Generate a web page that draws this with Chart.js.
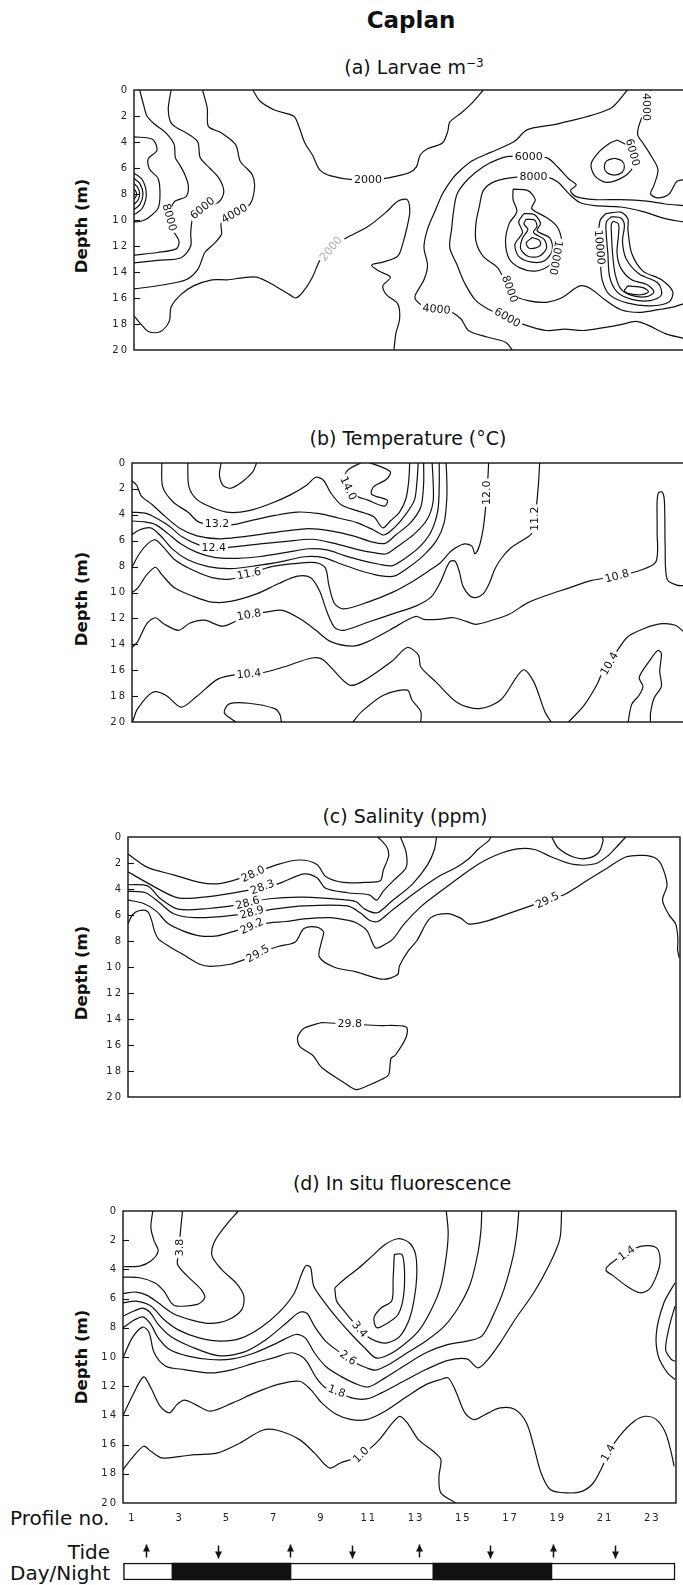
<!DOCTYPE html>
<html>
<head>
<meta charset="utf-8">
<script src="https://cdn.jsdelivr.net/npm/chart.js@4.4.1/dist/chart.umd.min.js"></script>
<style>
  html, body { margin: 0; padding: 0; background: #fff; width: 683px; height: 1585px; overflow: hidden; }
  #page { position: relative; width: 683px; height: 1585px; font-family: "DejaVu Sans", sans-serif; color: #111; }
  #page canvas { position: absolute; }
  .t { position: absolute; white-space: nowrap; line-height: 1; transform: translate(-50%, -50%); }
  .title { font-size: 19px; }
  .depth { font-size: 16.5px; font-weight: bold; transform: translate(-50%, -50%) rotate(-90deg); }
  .side { position: absolute; white-space: nowrap; line-height: 1; font-size: 20px; transform: translateY(-50%); }
  sup { font-size: 12px; }
</style>
</head>
<body>
<div id="page">
  <div class="t" style="left:411px; top:20px; font-size:23px; font-weight:bold;">Caplan</div>
  <div class="t title" style="left:414px; top:67px;">(a) Larvae m<sup>−3</sup></div>
  <div class="t title" style="left:408px; top:438px;">(b) Temperature (°C)</div>
  <div class="t title" style="left:405px; top:816px;">(c) Salinity (ppm)</div>
  <div class="t title" style="left:402px; top:1183px;">(d) In situ fluorescence</div>

  <div class="t depth" style="left:82px; top:226px;">Depth (m)</div>
  <div class="t depth" style="left:82px; top:599px;">Depth (m)</div>
  <div class="t depth" style="left:82px; top:973px;">Depth (m)</div>
  <div class="t depth" style="left:82px; top:1357px;">Depth (m)</div>

  <div class="side" style="left:10px; top:1518px;">Profile no.</div>
  <div class="side" style="right:573px; top:1552px;">Tide</div>
  <div class="side" style="right:573px; top:1573px;">Day/Night</div>

  <canvas id="larvae"></canvas>
  <canvas id="temp"></canvas>
  <canvas id="sal"></canvas>
  <canvas id="fluor"></canvas>
  <canvas id="strip"></canvas>
</div>

<script>
// Axis ticks
const depthTicks = [0, 2, 4, 6, 8, 10, 12, 14, 16, 18, 20];
const profileTicks = [1, 3, 5, 7, 9, 11, 13, 15, 17, 19, 21, 23];

// Tide turns and night periods (profile no.)
const tideProfiles = [1.57, 4.62, 7.66, 10.29, 13.12, 16.12, 18.79, 21.41];
const tideDirections = ['up', 'down', 'up', 'down', 'up', 'down', 'up', 'down'];
const nightSpans = [[2.67, 7.71], [13.71, 18.75]];

// (a) Larvae m-3 contour lines, points are [profile, depth]
const larvaeLines = [
  [[0.84,0],[1.0,1.1],[1.15,2.0],[1.45,2.6],[1.95,3.3],[2.3,4.2],[2.35,5.2],[2.55,5.8],[2.75,6.5],[2.9,7.4],[2.8,8.2],[2.3,8.6],[2.1,9.8],[2.25,10.8],[2.5,11.6],[2.4,12.2],[1.6,12.5],[0.6,12.7]],
  [[2.17,0],[2.05,1.5],[2.2,2.6],[2.9,3.4],[3.3,4.0],[3.4,5.2],[3.8,6.0],[4.2,6.8],[4.4,7.8],[4.2,8.6],[3.5,9.1],[3.1,9.8],[3.0,11.0],[3.0,12.0],[2.6,12.9],[1.6,13.1],[0.6,13.3]],
  [[3.5,0],[3.7,1.4],[3.75,2.8],[4.3,3.3],[4.9,4.2],[5.1,5.5],[5.6,6.5],[5.7,7.5],[5.5,8.8],[4.85,9.5],[4.3,10.2],[4.3,11.1],[4.0,11.8],[3.6,12.5],[3.3,13.8],[2.8,14.6],[1.8,15.0],[0.6,15.3]],
  [[0.6,3.6],[1.39,3.8],[1.57,4.65],[1.2,5.3],[1.26,6.1],[1.62,6.8],[1.7,8.0],[1.62,9.1],[1.23,9.8],[0.9,10.1],[0.6,10.15]],
  [[0.6,6.4],[0.95,6.9],[1.12,8.0],[0.95,9.1],[0.6,9.6]],
  [[0.6,6.8],[0.85,7.2],[0.98,8.0],[0.85,8.8],[0.6,9.2]],
  [[0.6,7.2],[0.76,7.5],[0.84,8.0],[0.76,8.5],[0.6,8.8]],
  [[0.6,7.6],[0.68,7.8],[0.71,8.0],[0.68,8.2],[0.6,8.4]],
  [[5.63,0],[5.94,0.87],[6.57,1.56],[7.36,2.02],[7.6,2.93],[7.83,4.08],[8.15,5.0],[8.46,6.14],[8.93,6.6],[10.03,6.94],[11.0,6.85],[11.76,6.6],[12.24,6.37],[12.55,5.91],[12.71,5.0],[13.0,4.54],[13.65,4.08],[13.88,3.16],[13.96,2.47],[14.43,1.79],[14.91,0.99],[15.38,0]],
  [[0.6,17.37],[0.91,18.05],[1.23,18.6],[1.7,18.6],[2.09,17.8],[2.17,16.7],[2.57,15.76],[3.12,15.07],[3.9,14.6],[4.53,14.6],[5.2,14.45],[5.79,14.4],[6.57,15.07],[7.2,15.76],[7.44,16.0],[7.75,15.53],[8.15,14.4],[8.46,13.13],[8.93,12.2],[9.56,11.4],[10.5,10.5],[11.3,9.35],[11.76,8.55],[12.16,8.43],[12.27,9.35],[12.16,10.5],[12.0,11.64],[11.76,12.78],[11.13,13.24],[10.66,13.47],[10.97,13.93],[11.45,14.4],[11.13,15.07],[11.29,15.76],[11.76,16.45],[11.84,17.6],[11.68,18.74],[11.6,20]],
  [[21.48,0],[20.74,1.44],[18.54,2.6],[17.25,3.05],[16.69,3.96],[15.69,4.8],[14.91,5.45],[14.28,6.4],[13.96,7.1],[13.65,8.0],[13.34,9.3],[13.02,10.7],[12.87,12.1],[13.02,13.5],[12.87,14.6],[12.5,15.8],[12.55,16.2],[13.02,16.8],[13.81,16.9],[14.43,17.6],[14.75,18.5],[15.54,19.0],[16.32,19.4],[16.61,20]],
  [[23.84,19.1],[23.08,18.74],[22.3,18.05],[21.83,17.8],[21.2,18.05],[20.41,18.3],[19.62,18.5],[18.83,18.4],[18.05,18.5],[17.11,18.05],[15.85,17.1],[15.07,16.2],[14.59,14.85],[14.28,13.5],[13.96,12.1],[14.04,10.7],[14.12,9.35],[14.28,7.97],[14.75,6.83],[15.38,5.9],[16.0,5.34],[16.48,5.1],[18.05,5.2],[18.52,5.9],[18.99,6.83],[19.31,7.3],[19.07,7.74],[19.31,8.2],[20.1,8.43],[21.2,8.43],[22.3,8.55],[23.08,8.77],[23.84,8.9]],
  [[23.84,10.15],[23.08,9.9],[22.14,9.35],[21.2,9.0],[20.1,8.9],[19.47,8.66],[19.0,7.97],[18.52,7.05],[18.05,6.7],[16.8,6.7],[15.85,7.05],[15.38,7.74],[15.22,8.9],[15.07,10.26],[15.07,11.64],[15.38,12.8],[16.0,13.7],[16.32,14.85],[16.64,15.76],[17.27,16.2],[18.05,16.33],[18.68,16.0],[19.47,15.07],[19.94,15.3],[20.57,16.2],[21.2,16.9],[21.98,17.1],[22.77,16.9],[23.4,16.7],[23.84,16.45]],
  [[22.46,0],[22.3,1.56],[22.06,2.25],[21.91,3.4],[22.14,4.1],[22.46,5.0],[22.77,6.1],[22.61,7.3],[22.46,8.0],[22.77,8.3],[23.24,8.0],[23.56,7.05],[23.84,6.9]],
  [[21.04,3.85],[21.5,4.3],[21.8,5.2],[21.66,6.1],[21.2,6.8],[20.57,7.1],[20.1,6.6],[19.94,5.7],[20.26,4.8],[20.73,4.1],[21.04,3.85]],
  [[20.93,5.25],[21.25,5.45],[21.35,5.9],[21.25,6.35],[20.93,6.55],[20.6,6.35],[20.5,5.9],[20.6,5.45],[20.93,5.25]],
  [[16.64,7.63],[17.27,7.74],[17.58,8.43],[17.43,9.12],[18.05,9.8],[18.5,10.5],[18.7,11.64],[18.6,12.56],[18.2,13.47],[17.58,13.93],[16.96,13.7],[16.48,13.0],[16.32,11.64],[16.48,10.26],[16.8,9.35],[16.64,8.43],[16.64,7.63]],
  [[17.1,9.5],[17.55,9.6],[17.8,10.26],[17.66,10.84],[18.2,11.4],[18.3,12.33],[17.97,13.13],[17.43,13.24],[16.88,12.8],[16.72,11.87],[17.04,10.95],[16.88,10.15],[17.1,9.5]],
  [[17.19,9.95],[17.55,10.0],[17.65,10.5],[17.5,10.95],[17.97,11.52],[18.05,12.2],[17.74,12.79],[17.27,12.79],[16.96,12.2],[17.04,11.4],[17.27,10.72],[17.1,10.3],[17.19,9.95]],
  [[17.45,11.35],[17.75,11.55],[17.8,11.9],[17.6,12.15],[17.3,12.15],[17.2,11.75],[17.45,11.35]],
  [[20.57,9.5],[21.2,9.4],[21.5,9.9],[21.5,10.72],[21.66,12.56],[22.14,13.93],[22.92,14.6],[23.4,15.53],[23.24,16.3],[22.46,16.6],[21.5,16.4],[20.73,15.76],[20.41,14.6],[20.33,13.0],[20.26,11.18],[20.33,10.0],[20.57,9.5]],
  [[20.8,9.75],[21.2,9.85],[21.35,10.4],[21.27,11.64],[21.43,13.0],[21.98,14.16],[22.77,14.85],[22.92,15.76],[22.46,16.2],[21.66,16.1],[21.04,15.53],[20.73,14.4],[20.65,12.56],[20.57,10.72],[20.6,10.1],[20.8,9.75]],
  [[20.88,10.1],[21.1,10.3],[21.1,11.18],[21.04,12.56],[21.2,13.7],[21.66,14.6],[22.3,14.96],[22.6,15.53],[22.3,15.9],[21.66,15.8],[21.2,15.3],[20.96,14.16],[20.85,12.56],[20.8,10.95],[20.8,10.3],[20.88,10.1]],
  [[21.5,15.07],[22.14,15.2],[22.37,15.53],[22.06,15.75],[21.5,15.65],[21.35,15.42],[21.5,15.07]]
];
const larvaeLabels = [
  ['8000', 2.1, 9.8, 75], ['6000', 3.5, 9.1, -40], ['4000', 4.85, 9.5, -30],
  ['2000', 10.5, 6.9, 0], ['2000', 8.93, 12.2, -50, true],
  ['4000', 13.4, 16.86, 5], ['6000', 16.4, 17.5, 30], ['6000', 17.3, 5.15, 0],
  ['8000', 17.5, 6.7, 0], ['10000', 18.45, 12.9, 100], ['8000', 16.5, 15.3, 70],
  ['10000', 20.3, 12.1, 85], ['4000', 22.3, 1.3, 90], ['6000', 21.7, 4.8, 75]
];

// (b) Temperature contour lines
const tempLines = [
  [[4.37,0],[4.3,0.92],[4.45,1.72],[4.77,1.95],[5.24,1.49],[5.71,0.69],[5.87,0]],
  [[10.27,0],[9.72,0.57],[9.56,1.38],[9.95,2.41],[10.58,2.87],[11.29,3.33],[11.4,2.87],[10.74,2.41],[10.82,1.84],[11.37,1.26],[11.53,0.69],[10.98,0.18],[10.66,0]],
  [[2.96,0],[3.01,1.84],[3.38,2.87],[4.06,3.49],[4.73,3.82],[5.55,3.68],[6.42,3.17],[7.28,2.48],[7.99,1.72],[8.38,1.1],[8.7,1.33],[9.01,2.3],[9.45,3.22],[10.11,3.68],[10.82,4.14],[11.21,5.01],[11.53,4.48],[11.92,3.79],[12.19,2.76],[12.31,1.38],[12.35,0]],
  [[1.86,0],[1.9,1.84],[2.33,2.99],[2.96,3.79],[3.48,4.6],[4.77,4.78],[5.71,4.41],[6.65,4.05],[7.6,3.79],[8.54,3.91],[9.33,4.25],[10.11,4.6],[10.82,5.17],[11.26,5.56],[11.69,5.01],[12.16,4.02],[12.55,2.87],[12.66,1.38],[12.71,0]],
  [[0.6,1.38],[0.8,1.72],[0.99,2.53],[1.46,3.22],[2.01,4.14],[2.64,5.06],[3.35,5.63],[4.3,5.86],[5.24,5.7],[6.18,5.47],[7.13,5.24],[8.07,5.06],[9.01,5.24],[9.96,5.63],[10.74,6.09],[11.31,6.21],[11.76,5.56],[12.39,4.6],[12.82,3.4],[12.94,1.61],[12.94,0]],
  [[0.6,3.79],[1.23,3.91],[1.62,4.25],[2.17,4.87],[2.72,5.7],[3.43,6.32],[4.14,6.55],[5.08,6.44],[6.02,6.25],[7.13,6.05],[8.23,5.89],[9.17,6.21],[10.11,6.67],[10.9,6.94],[11.37,7.01],[11.84,6.44],[12.55,5.47],[13.1,4.32],[13.34,2.99],[13.34,1.38],[13.3,0]],
  [[0.6,4.48],[1.15,4.55],[1.62,4.78],[2.09,5.4],[2.64,6.21],[3.35,6.9],[4.14,7.31],[5.08,7.36],[6.02,7.22],[7.13,6.9],[8.07,6.62],[8.85,6.71],[9.56,7.13],[10.35,7.54],[11.06,7.82],[11.61,7.93],[12.16,7.36],[12.79,6.44],[13.26,5.29],[13.54,3.68],[13.6,1.84],[13.6,0]],
  [[0.6,5.52],[0.91,5.17],[1.39,5.01],[1.78,5.56],[2.33,6.67],[2.96,7.47],[3.82,8.0],[4.77,8.16],[5.87,7.93],[6.97,7.59],[7.91,7.24],[8.7,7.31],[9.48,7.82],[10.27,8.32],[11.06,8.69],[11.69,8.74],[12.31,8.05],[12.94,7.13],[13.49,5.98],[13.81,4.6],[13.92,2.76],[13.92,1.15],[13.89,0]],
  [[0.6,8.05],[0.91,7.01],[1.28,6.21],[1.59,5.93],[1.9,6.44],[2.41,7.47],[3.12,8.23],[3.98,8.85],[4.77,8.97],[5.55,8.55],[6.5,8.0],[7.44,7.77],[8.38,7.7],[8.78,8.1],[8.93,9.43],[9.17,10.85],[9.56,11.26],[10.58,10.74],[11.69,9.93],[12.47,9.15],[13.1,8.39],[13.65,7.7],[14.12,6.78],[14.67,6.25],[14.99,6.44],[15.11,7.01],[15.3,6.39],[15.46,5.06],[15.55,3.68],[15.62,2.3],[15.66,1.15],[15.69,0]],
  [[0.6,10.0],[0.84,9.66],[1.23,8.62],[1.59,8.05],[1.86,8.62],[2.41,9.66],[3.2,10.3],[3.98,10.74],[4.77,10.69],[5.87,10.11],[6.81,9.31],[7.6,8.74],[8.15,8.85],[8.54,9.89],[8.85,11.49],[9.17,12.69],[9.56,12.92],[10.58,12.3],[11.69,11.61],[12.63,11.03],[13.26,10.34],[13.65,9.2],[13.89,8.16],[14.07,7.59],[14.28,7.59],[14.45,8.39],[14.61,9.54],[14.88,10.23],[15.14,10.39],[15.46,10.11],[15.74,9.2],[15.96,8.16],[16.28,7.24],[16.64,6.55],[17.11,5.98],[17.5,5.47],[17.66,4.14],[17.79,1.84],[17.85,0]],
  [[0.6,14.25],[0.84,13.79],[1.23,12.41],[1.59,11.95],[1.94,12.41],[2.57,12.92],[3.04,12.37],[3.67,12.14],[4.45,12.6],[5.55,11.72],[6.34,11.49],[6.97,11.38],[7.75,12.07],[8.38,12.92],[9.01,13.79],[9.95,14.14],[10.58,13.79],[11.53,12.87],[12.31,12.07],[12.63,11.84],[12.94,12.07],[13.57,12.07],[14.2,11.95],[14.75,12.23],[15.14,12.46],[15.77,12.18],[16.56,11.68],[17.34,10.8],[18.13,10.23],[19.07,9.66],[20.02,9.08],[21.12,8.74],[22.06,8.32],[22.77,7.63],[22.82,5.29],[22.82,2.99],[22.88,2.3],[23.04,2.25],[23.13,2.99],[23.16,6.44],[23.24,8.97],[23.64,9.43],[23.92,9.47]],
  [[0.62,20],[0.84,18.97],[1.48,17.7],[2.03,17.93],[2.68,18.85],[3.32,18.05],[4.25,16.67],[5.08,16.32],[6.09,16.21],[7.02,15.75],[8.21,15.06],[8.67,15.17],[9.77,17.13],[10.32,16.9],[11.61,15.29],[12.25,14.25],[12.72,14.83],[12.82,15.75],[13.46,16.9],[14.37,18.51],[15.3,18.97],[16.21,18.28],[17.14,15.98],[17.6,16.9],[18.07,19.2],[18.34,20]],
  [[4.99,20],[4.51,19.31],[4.7,18.62],[5.54,18.55],[6.64,18.97],[6.86,19.43],[6.92,20]],
  [[9.95,20],[10.32,19.2],[11.24,17.93],[12.25,17.54],[12.44,18.28],[12.82,19.2],[12.82,20]],
  [[19.07,20],[19.72,18.74],[20.27,17.13],[20.55,15.98],[21.01,14.83],[21.56,13.45],[22.3,12.76],[23.04,12.41],[23.59,12.53],[23.92,12.99]],
  [[21.59,20],[21.75,18.62],[22.06,17.93],[22.22,17.24],[22.06,16.55],[22.54,15.17],[22.85,14.48],[23.0,14.71],[22.93,16.09],[23.0,17.24],[22.69,18.16],[22.54,19.31],[22.54,20]]
];
const tempLabels = [
  ['14.0', 9.75, 1.95, 65], ['13.2', 4.2, 4.7, 0], ['12.4', 4.06, 6.5, 0],
  ['11.6', 5.55, 8.55, -12], ['10.8', 5.55, 11.72, -10], ['10.4', 5.55, 16.28, -5],
  ['12.0', 15.62, 2.3, -90], ['11.2', 17.65, 4.3, -90], ['10.8', 21.12, 8.74, -15],
  ['10.4', 20.8, 15.5, -60]
];

// (c) Salinity contour lines
const salLines = [
  [[0.6,1.31],[1.43,2.34],[2.53,2.91],[3.64,3.49],[4.38,3.6],[5.21,3.26],[6.96,2.11],[7.88,1.77],[8.61,2.11],[8.98,3.03],[9.72,3.49],[10.64,3.49],[11.29,3.37],[11.42,2.57],[11.65,1.42],[11.56,0.73],[11.19,0]],
  [[0.6,2.68],[1.61,3.72],[2.72,4.68],[4.01,4.59],[5.48,4.17],[6.96,3.6],[8.06,2.84],[8.61,3.14],[8.98,3.94],[9.9,4.29],[10.83,4.45],[11.14,4.86],[11.42,4.17],[11.84,3.37],[12.39,2.34],[12.39,1.19],[12.15,0]],
  [[0.6,3.67],[1.43,3.76],[1.98,4.75],[2.72,5.55],[4.01,5.5],[5.3,5.2],[6.59,4.75],[8.06,4.63],[9.72,4.82],[10.27,4.98],[10.64,5.55],[11.16,5.83],[11.75,4.98],[12.67,3.6],[13.31,2.11],[13.59,0.96],[13.68,0]],
  [[0.6,4.17],[1.34,4.29],[1.89,4.98],[2.53,5.9],[3.45,6.2],[4.93,6.05],[6.59,5.6],[8.06,5.3],[9.9,5.3],[10.46,5.85],[10.83,6.4],[11.19,6.5],[11.75,5.7],[12.85,4.17],[13.77,3.03],[14.51,2.34],[15.06,1.65],[15.43,0.96],[15.89,0.28],[15.98,0]],
  [[0.6,4.86],[1.24,5.1],[1.8,5.7],[2.26,6.6],[2.9,7.2],[3.64,7.6],[4.38,7.6],[5.0,7.3],[5.85,6.85],[6.6,6.6],[7.3,6.5],[8.06,6.3],[9.17,6.2],[9.9,6.4],[10.27,6.6],[10.73,7.2],[11.1,8.53],[11.56,8.19],[11.84,7.84],[12.3,6.7],[13.04,5.32],[13.77,4.29],[14.7,3.03],[15.43,2.11],[16.17,1.42],[17.09,0.92],[17.83,0.96],[18.56,1.54],[19.48,2.11],[20.41,2.06],[20.96,1.42],[21.33,0.73],[21.7,0]],
  [[0.6,6.7],[0.78,6.0],[1.06,5.67],[1.43,5.73],[1.61,6.47],[1.71,7.16],[1.89,7.84],[2.35,8.42],[2.9,9.0],[3.64,9.79],[4.1,9.95],[4.93,9.79],[5.67,9.33],[6.22,8.88],[6.96,8.42],[7.69,8.07],[8.06,7.04],[8.61,6.93],[8.89,7.3],[8.8,8.07],[8.71,9.22],[9.35,10.02],[10.27,10.37],[11.38,10.94],[12.02,10.6],[12.11,9.91],[12.48,8.76],[12.85,7.96],[13.41,6.24],[14.14,5.89],[14.7,6.24],[15.06,6.7],[15.8,6.47],[16.72,5.89],[17.64,5.32],[18.38,4.86],[19.12,4.4],[20.04,3.37],[20.96,2.34],[21.7,1.54],[22.44,1.42],[22.99,1.65],[23.26,2.34],[23.45,3.72],[23.26,4.86],[23.54,6.01],[23.82,6.7],[23.91,7.84],[23.9,8.7],[23.97,9.3]],
  [[18.56,0],[18.84,0.85],[19.48,1.54],[20.04,1.65],[20.55,1.19],[20.74,0.28],[20.7,0]],
  [[8.8,14.27],[9.9,14.38],[11.19,14.5],[12.39,14.61],[12.39,15.41],[11.93,16.79],[11.75,17.02],[11.65,18.28],[11.38,18.62],[10.83,19.08],[10.27,19.43],[9.72,18.85],[8.8,17.71],[8.43,16.79],[7.88,16.1],[7.79,15.41],[8.06,14.72],[8.8,14.27]]
];
const salLabels = [
  ['28.0', 5.9, 2.84, -25], ['28.3', 6.3, 3.85, -20], ['28.6', 5.67, 5.07, -15],
  ['28.9', 5.85, 5.8, -15], ['29.2', 5.85, 6.85, -25], ['29.5', 6.1, 8.98, -30],
  ['29.5', 18.38, 4.86, -25], ['29.8', 10.0, 14.38, 0]
];

// (d) In situ fluorescence contour lines
const fluorLines = [
  [[1.86,0],[1.78,1.14],[1.92,2.06],[2.09,2.74],[1.78,3.43],[1.31,3.77],[0.6,3.82]],
  [[3.12,0],[3.04,1.26],[2.96,2.86],[2.91,3.66],[3.35,4.5],[3.9,5.37],[4.06,5.94],[3.75,6.4],[2.88,6.51],[2.64,6.29],[2.33,5.49],[1.94,4.91],[1.31,4.57],[0.6,4.53]],
  [[5.48,0],[4.93,1.03],[4.45,2.17],[4.37,3.09],[4.77,4.0],[5.4,4.96],[5.71,5.83],[5.63,6.74],[5.08,7.43],[4.3,7.7],[3.51,7.47],[2.72,7.02],[2.09,6.29],[1.62,5.78],[1.15,5.55],[0.6,5.65]],
  [[0.6,6.29],[1.15,6.17],[1.78,6.51],[2.33,7.43],[2.96,8.16],[3.82,8.69],[4.77,8.91],[5.63,8.69],[6.42,8.0],[7.21,6.93],[7.84,5.65],[8.15,4.34],[8.35,3.73],[8.54,3.89],[8.67,5.14],[9.09,6.17],[9.64,7.31],[10.27,8.46],[10.82,9.37],[11.3,10.06],[11.77,9.9],[12.4,9.26],[13.1,8.23],[13.65,6.74],[14.05,5.14],[14.28,3.09],[14.36,1.49],[14.28,0]],
  [[9.56,5.26],[10.04,4.57],[10.59,3.89],[11.14,3.09],[11.69,2.29],[12.24,1.9],[12.71,2.17],[12.98,2.97],[13.03,4.46],[12.92,6.06],[12.71,7.43],[12.32,8.57],[11.77,9.03],[11.3,8.91],[10.82,8.46],[10.43,7.77],[9.96,6.86],[9.64,6.17],[9.56,5.26]],
  [[12.08,2.97],[12.4,2.97],[12.51,4.0],[12.47,5.83],[12.24,7.09],[11.77,7.7],[11.34,8.0],[11.22,7.31],[11.53,6.63],[11.97,6.17],[12.03,4.69],[12.08,2.97]],
  [[0.6,7.2],[1.07,6.85],[1.43,6.65],[1.75,6.95],[2.09,7.77],[2.64,8.62],[3.43,9.26],[4.61,9.9],[5.71,9.67],[6.66,8.8],[7.52,7.66],[8.07,6.93],[8.39,7.02],[8.7,7.89],[9.17,8.91],[9.8,9.71],[10.43,10.4],[10.9,10.74],[11.3,10.9],[11.85,10.51],[12.63,9.71],[13.42,8.91],[14.2,7.89],[14.83,6.51],[15.31,4.91],[15.62,2.86],[15.75,1.26],[15.78,0]],
  [[0.6,8.0],[0.99,7.55],[1.43,7.25],[1.75,7.7],[2.09,8.69],[2.57,9.49],[3.35,9.94],[4.3,10.17],[5.24,10.13],[6.18,9.71],[7.13,9.03],[7.91,8.46],[8.31,8.69],[8.7,9.71],[9.17,10.63],[9.8,11.31],[10.43,11.82],[10.98,12.05],[11.69,11.43],[12.47,10.63],[13.42,9.71],[14.36,9.14],[15.15,8.91],[15.78,8.57],[16.25,7.2],[16.72,5.37],[17.11,3.09],[17.27,1.49],[17.35,0]],
  [[0.6,10.06],[0.99,8.69],[1.43,7.95],[1.7,8.3],[1.92,9.71],[2.41,10.63],[3.2,10.86],[4.3,11.09],[5.24,10.86],[6.18,10.4],[6.97,10.06],[7.76,9.71],[8.31,10.17],[8.78,11.43],[9.17,12.11],[9.64,12.34],[10.27,12.8],[10.9,12.87],[11.53,12.46],[12.47,11.66],[13.42,10.86],[14.36,10.23],[15.15,10.13],[15.62,10.74],[16.01,10.23],[16.56,9.03],[17.19,7.43],[17.98,5.6],[18.61,3.77],[19.08,1.94],[19.16,0]],
  [[0.6,14.01],[0.99,12.69],[1.47,11.36],[1.78,12.11],[2.17,13.37],[2.57,13.83],[2.88,13.26],[3.2,12.96],[3.67,13.26],[4.3,13.71],[5.24,13.14],[6.18,12.46],[7.13,11.89],[8.07,11.66],[8.54,12.23],[9.01,13.14],[9.64,13.94],[10.27,14.29],[10.9,14.29],[11.69,13.71],[12.63,12.69],[13.42,11.89],[14.05,11.54],[14.36,11.43],[14.68,12.34],[15.07,13.83],[15.46,14.29],[15.93,13.94],[16.56,13.49],[17.19,13.6],[17.67,14.51],[17.98,16.11],[18.29,17.94],[18.69,19.09],[19.4,19.31],[20.02,19.2],[20.5,18.63],[20.89,17.49],[21.13,16.57],[21.6,15.43],[22.23,14.4],[22.7,14.06],[23.17,14.29],[23.56,15.2],[23.8,16.57],[23.92,17.49]],
  [[0.6,17.71],[0.99,16.91],[1.47,16.11],[1.78,16.46],[2.25,16.91],[3.04,16.8],[3.67,16.69],[4.61,16.57],[5.55,15.89],[6.5,15.02],[7.13,15.02],[8.07,15.66],[8.7,16.57],[9.33,17.6],[9.8,17.26],[10.59,16.8],[11.37,15.8],[12.0,14.51],[12.32,14.06],[12.63,14.51],[13.1,15.66],[13.73,16.46],[14.05,17.03],[13.97,18.17],[14.05,19.31],[14.68,20]],
  [[21.05,3.89],[21.28,3.54],[21.91,2.86],[22.54,2.4],[23.17,2.51],[23.33,3.43],[23.17,4.46],[22.86,5.37],[22.46,5.6],[21.91,5.14],[21.36,4.46],[21.05,4.11],[21.05,3.89]],
  [[23.96,4.91],[23.49,6.29],[23.17,8.34],[23.25,9.94],[23.64,11.09],[23.96,11.54]],
  [[23.96,6.51],[23.72,7.89],[23.56,9.49],[23.8,10.17],[23.96,10.29]]
];
const fluorLabels = [
  ['3.8', 2.98, 2.5, -90], ['3.4', 10.62, 8.1, 50], ['2.6', 10.12, 10.05, 35],
  ['1.8', 9.64, 12.34, 20], ['1.0', 10.67, 16.7, -45], ['1.4', 21.13, 16.57, -60],
  ['1.4', 21.91, 2.9, -35]
];

const fontFamily = '"DejaVu Sans", sans-serif';

// The scanned axis numbers are set wide, so space the tick text out a little
const wideTicks = {
  id: 'wideTicks',
  beforeDraw(chart) { chart.ctx.letterSpacing = '2px'; },
  afterDraw(chart) { chart.ctx.letterSpacing = '0px'; }
};

// Contour value labels with a white gap behind them
const contourLabels = {
  id: 'contourLabels',
  afterDatasetsDraw(chart, args, opts) {
    const { ctx, scales: { x, y } } = chart;
    ctx.save();
    ctx.letterSpacing = '0px';
    ctx.font = '11px ' + fontFamily;
    ctx.textAlign = 'center';
    ctx.textBaseline = 'middle';
    (opts.items || []).forEach(([text, px, py, angle, faint]) => {
      const w = ctx.measureText(text).width;
      ctx.save();
      ctx.translate(x.getPixelForValue(px), y.getPixelForValue(py));
      ctx.rotate(angle * Math.PI / 180);
      ctx.fillStyle = '#fff';
      ctx.fillRect(-w / 2 - 2, -5, w + 4, 10);
      ctx.fillStyle = faint ? '#b0b0b0' : '#111';
      ctx.fillText(text, 0, 0.5);
      ctx.restore();
    });
    ctx.restore();
  }
};

// Box round the plot and short inward depth ticks
const panelFrame = {
  id: 'panelFrame',
  afterDraw(chart) {
    const { ctx, chartArea: a, scales: { y } } = chart;
    ctx.save();
    ctx.strokeStyle = '#111';
    ctx.lineWidth = 1.4;
    ctx.strokeRect(a.left, a.top, a.right - a.left, a.bottom - a.top);
    ctx.lineWidth = 1.1;
    depthTicks.slice(1, -1).forEach(v => {
      const py = Math.round(y.getPixelForValue(v)) + 0.5;
      ctx.beginPath();
      ctx.moveTo(a.left, py);
      ctx.lineTo(a.left + 6, py);
      ctx.stroke();
    });
    ctx.restore();
  }
};

// Build one contour panel so that its plot box lands on the given page box
function contourPanel(canvasId, lines, labels, box, showProfiles) {
  const canvas = document.getElementById(canvasId);
  const width = Math.max(683, box.right + 10);
  const height = box.bottom - box.top + 20 + (showProfiles ? 30 : 0);
  canvas.width = width;
  canvas.height = height;
  canvas.style.left = '0px';
  canvas.style.top = (box.top - 10) + 'px';

  new Chart(canvas, {
    type: 'scatter',
    data: {
      datasets: lines.map(pts => ({
        data: pts.map(([x, y]) => ({ x, y })),
        showLine: true,
        borderColor: '#111',
        borderWidth: 1.2,
        pointRadius: 0,
        tension: 0.3
      }))
    },
    options: {
      responsive: false,
      animation: false,
      devicePixelRatio: 1,
      events: [],
      layout: { padding: { left: 0, top: 10, bottom: 10, right: width - box.right } },
      plugins: {
        legend: { display: false },
        tooltip: { enabled: false },
        contourLabels: { items: labels }
      },
      scales: {
        x: {
          type: 'linear', min: 0.6, max: 24,
          display: showProfiles,
          grid: { display: false, drawTicks: false },
          border: { display: false },
          afterBuildTicks: s => { s.ticks = profileTicks.map(v => ({ value: v })); },
          afterFit: s => { s.height = 30; },
          ticks: { font: { family: fontFamily, size: 10 }, color: '#222', padding: 9, maxRotation: 0, autoSkip: false }
        },
        y: {
          type: 'linear', min: 0, max: 20, reverse: true,
          grid: { display: false, drawTicks: false },
          border: { display: false },
          afterBuildTicks: s => { s.ticks = depthTicks.map(v => ({ value: v })); },
          afterFit: s => { s.width = box.left; },
          ticks: { font: { family: fontFamily, size: 10 }, color: '#222', padding: 5 }
        }
      }
    },
    plugins: [wideTicks, contourLabels, panelFrame]
  });
}

// Tide arrows above the day/night bar
const tideArrows = {
  id: 'tideArrows',
  afterDraw(chart) {
    const { ctx, scales: { x, y } } = chart;
    const cy = y.getPixelForValue(0) + 1;
    ctx.save();
    ctx.strokeStyle = '#111';
    ctx.fillStyle = '#111';
    ctx.lineWidth = 1.5;
    tideProfiles.forEach((p, i) => {
      const px = Math.round(x.getPixelForValue(p)) + 0.5;
      const dir = tideDirections[i] === 'up' ? -1 : 1;
      const tip = cy + dir * 7;
      ctx.beginPath();
      ctx.moveTo(px, cy - dir * 6);
      ctx.lineTo(px, tip);
      ctx.stroke();
      ctx.beginPath();
      ctx.moveTo(px, tip);
      ctx.lineTo(px - 3.5, tip - dir * 7);
      ctx.lineTo(px + 3.5, tip - dir * 7);
      ctx.closePath();
      ctx.fill();
    });
    ctx.restore();
  }
};

function drawStrip() {
  const canvas = document.getElementById('strip');
  canvas.width = 683;
  canvas.height = 45;
  canvas.style.left = '0px';
  canvas.style.top = '1540px';

  const nightSets = nightSpans.map(span => ({
    data: [null, span],
    backgroundColor: '#111',
    borderWidth: 0,
    barThickness: 17,
    grouped: false,
    order: 1
  }));

  new Chart(canvas, {
    type: 'bar',
    data: {
      labels: ['Tide', 'Day/Night'],
      datasets: [
        ...nightSets,
        {
          data: [null, [0.62, 23.96]],
          backgroundColor: '#fff',
          borderColor: '#111',
          borderWidth: 1.5,
          borderSkipped: false,
          barThickness: 17,
          grouped: false,
          order: 2
        }
      ]
    },
    options: {
      indexAxis: 'y',
      responsive: false,
      animation: false,
      devicePixelRatio: 1,
      events: [],
      layout: { padding: { left: 123, right: 7, top: 0, bottom: 3 } },
      plugins: { legend: { display: false }, tooltip: { enabled: false } },
      scales: {
        x: { type: 'linear', min: 0.6, max: 24, display: false },
        y: { display: false }
      }
    },
    plugins: [tideArrows]
  });
}

contourPanel('larvae', larvaeLines, larvaeLabels, { left: 134, right: 687, top: 89, bottom: 380 }, false);
contourPanel('temp', tempLines, tempLabels, { left: 132, right: 685, top: 462, bottom: 752 }, false);
contourPanel('sal', salLines, salLabels, { left: 128, right: 680, top: 836, bottom: 1127 }, false);
contourPanel('fluor', fluorLines, fluorLabels, { left: 123, right: 676, top: 1210, bottom: 1503 }, true);
drawStrip();
</script>
</body>
</html>
